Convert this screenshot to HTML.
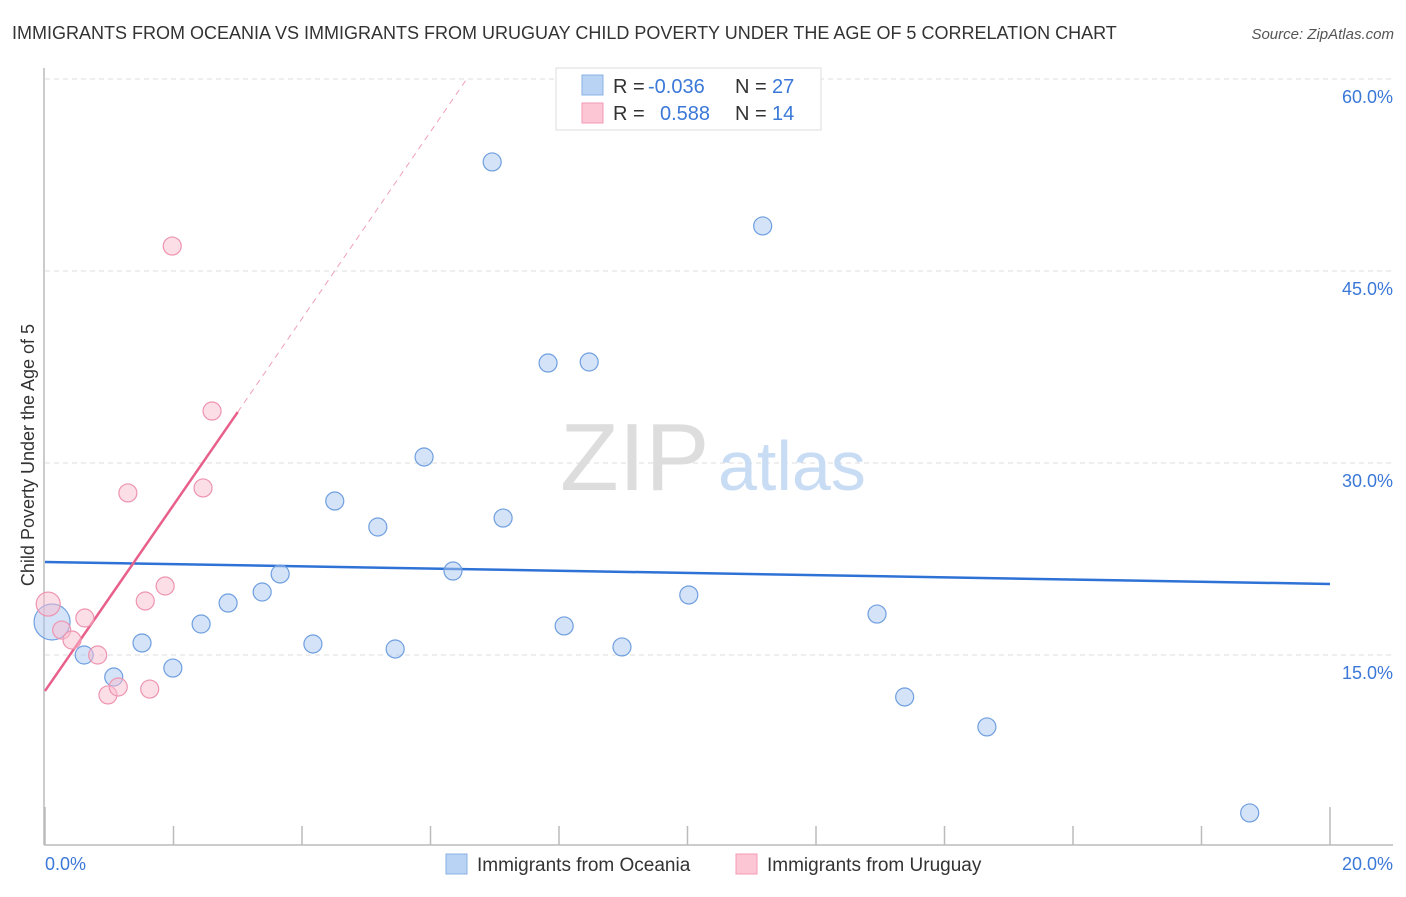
<!DOCTYPE html>
<html><head><meta charset="utf-8"><style>
body{margin:0;background:#fff;font-family:"Liberation Sans",sans-serif;}
svg text{font-family:"Liberation Sans",sans-serif;}
</style></head><body>
<svg width="1406" height="892">
<text x="12" y="39" font-size="18" fill="#333">IMMIGRANTS FROM OCEANIA VS IMMIGRANTS FROM URUGUAY CHILD POVERTY UNDER THE AGE OF 5 CORRELATION CHART</text>
<text x="1394" y="39" font-size="15" fill="#555" font-style="italic" text-anchor="end">Source: ZipAtlas.com</text>
<g id="grid"></g>
<g id="yticks"></g>
<text x="560" y="490" font-size="96" fill="#ddd" font-family="Liberation Serif">ZIP</text>
<text x="718" y="490" font-size="70" fill="#c8dcf4">atlas</text>
<line x1="44" y1="68" x2="44" y2="845" stroke="#bbb" stroke-width="1.5"/>
<line x1="44" y1="845" x2="1393" y2="845" stroke="#bbb" stroke-width="1.5"/>
<g id="xticks"></g>
<g id="lines"></g>
<g id="pts"></g>
<text x="34" y="455" font-size="18" fill="#333" text-anchor="middle" transform="rotate(-90 34 455)">Child Poverty Under the Age of 5</text>
<text x="45" y="870" font-size="18" fill="#3b78d8">0.0%</text>
<text x="1393" y="870" font-size="18" fill="#3b78d8" text-anchor="end">20.0%</text>
<g>
<rect x="556" y="68" width="265" height="62" fill="#fff" stroke="#ddd"/>
<rect x="582" y="75" width="21" height="20" fill="#b9d3f5" stroke="#8ab0e6"/>
<rect x="582" y="103" width="21" height="20" fill="#fcc6d5" stroke="#f29ab4"/>
<text x="613" y="93" font-size="20" fill="#333">R = </text><text x="648" y="93" font-size="20" fill="#3b78d8">-0.036</text>
<text x="735" y="93" font-size="20" fill="#333">N = </text><text x="772" y="93" font-size="20" fill="#3b78d8">27</text>
<text x="613" y="120" font-size="20" fill="#333">R = </text><text x="660" y="120" font-size="20" fill="#3b78d8">0.588</text>
<text x="735" y="120" font-size="20" fill="#333">N = </text><text x="772" y="120" font-size="20" fill="#3b78d8">14</text>
</g>
<g>
<rect x="446" y="854" width="21" height="20" fill="#b9d3f5" stroke="#8ab0e6"/>
<text x="477" y="871" font-size="19" fill="#333">Immigrants from Oceania</text>
<rect x="736" y="854" width="21" height="20" fill="#fcc6d5" stroke="#f29ab4"/>
<text x="767" y="871" font-size="19" fill="#333">Immigrants from Uruguay</text>
</g>
</svg>
<script>
const yTicks=[15,30,45,60];
const yTickLabels=["15.0%","30.0%","45.0%","60.0%"];
const xTickVals=[0,2,4,6,8,10,12,14,16,18,20];
const oceaniaX=[0.11,0.61,1.07,1.51,1.99,2.43,2.85,3.38,3.66,4.17,4.51,5.18,5.45,5.90,6.35,6.96,7.13,7.83,8.08,8.47,8.98,10.02,11.17,12.95,13.38,14.66,18.75];
const oceaniaY=[17.58,15.0,13.28,15.94,13.98,17.42,19.06,19.92,21.33,15.86,27.03,25.0,15.47,30.47,21.56,53.52,25.70,37.81,17.27,37.89,15.63,19.69,48.52,18.20,11.72,9.38,2.66];
const uruguayX=[0.05,0.26,0.42,0.62,0.82,0.98,1.14,1.29,1.56,1.63,1.87,1.98,2.46,2.60];
const uruguayY=[18.98,16.95,16.17,17.89,15.0,11.88,12.5,27.66,19.22,12.34,20.39,46.95,28.05,34.06];
const oceaniaTrend=[22.27,20.55];
const uruguayTrend=[12.19,33.98,59.9];
const uruguayTrendX=[0,3.0,6.55];
const NS="http://www.w3.org/2000/svg";
const xs=v=>45+v/20*1285, ys=v=>847-v/15*192;
function mk(t,a,p){const e=document.createElementNS(NS,t);for(const k in a)e.setAttribute(k,a[k]);document.getElementById(p).appendChild(e);return e;}
yTicks.forEach((v,i)=>{
 const g=mk('line',{x1:45,x2:1393,y1:ys(v),y2:ys(v),stroke:'#ddd','stroke-dasharray':'5,4'},'grid');
 
 
 const t=mk('text',{x:1393,y:ys(v)+24,'font-size':18,fill:'#3b78d8','text-anchor':'end'},'yticks');
 t.textContent=yTickLabels[i];
 
 
});
xTickVals.forEach((v,i)=>{
 const l=mk('line',{x1:xs(v),x2:xs(v),y1:(i==0||i==10)?807:826,y2:845,stroke:'#bbb','stroke-width':1.5},'xticks');
 
 
});
let l1=mk('line',{x1:xs(0),y1:ys(oceaniaTrend[0]),x2:xs(20),y2:ys(oceaniaTrend[1]),stroke:'#2f72d6','stroke-width':2.5},'lines');


let l2=mk('line',{x1:xs(uruguayTrendX[0]),y1:ys(uruguayTrend[0]),x2:xs(uruguayTrendX[1]),y2:ys(uruguayTrend[1]),stroke:'#e8608a','stroke-width':2.5},'lines');


let l3=mk('line',{x1:xs(uruguayTrendX[1]),y1:ys(uruguayTrend[1]),x2:xs(uruguayTrendX[2]),y2:ys(uruguayTrend[2]),stroke:'#f0a0b8','stroke-width':1,'stroke-dasharray':'6,5'},'lines');


oceaniaX.forEach((x,i)=>{
 const c=mk('circle',{cx:xs(x),cy:ys(oceaniaY[i]),r:i==0?18:9,fill:'rgba(170,200,240,0.5)',stroke:'#6f9fe0','stroke-width':1.2},'pts');
 
 
});
uruguayX.forEach((x,i)=>{
 const c=mk('circle',{cx:xs(x),cy:ys(uruguayY[i]),r:i==0?12:9,fill:'rgba(250,190,208,0.5)',stroke:'#ee94b0','stroke-width':1.2},'pts');
 
 
});
</script>
</body></html>
